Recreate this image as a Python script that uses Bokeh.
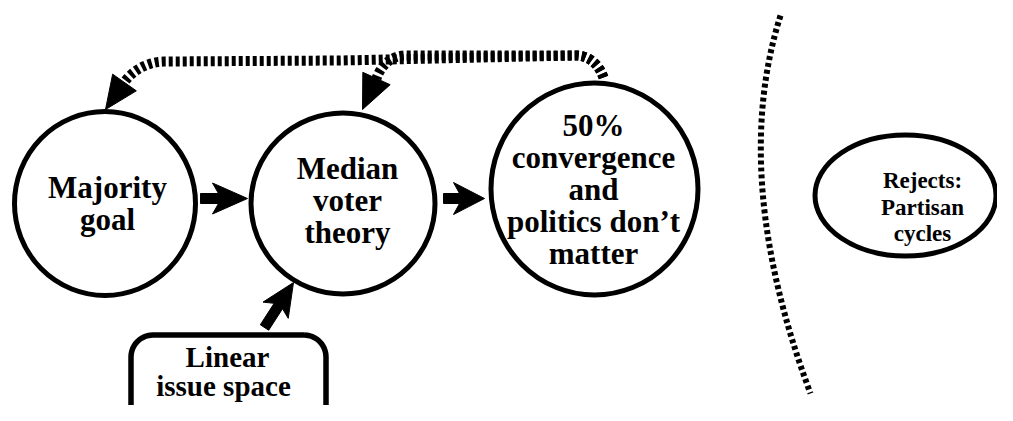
import math
from bokeh.plotting import figure
from bokeh.models import Range1d
from bokeh.core.properties import value
from bokeh.embed import file_html
from bokeh.resources import INLINE

# ---- diagram content (page-pixel coordinates) ----
node_labels = ["Majority goal", "Median voter theory",
               "50% convergence and politics don't matter"]
node_x = [104.5, 342.5, 594]
node_y = [203, 203, 188.5]
node_w = [181, 184, 207]
node_h = [184, 181, 212]

node_lines = [["Majority", "goal"],
              ["Median", "voter", "theory"],
              ["50%", "convergence", "and", "politics don\u2019t", "matter"]]
text_cx = [107, 347, 593]
text_y0 = [187, 168, 125]
line_gap = 32

reject_lines = ["Rejects:", "Partisan", "cycles"]
reject_x, reject_y, reject_w, reject_h = 905, 195, 181, 121
reject_tx, reject_ty0, reject_gap = 922, 180, 26.5

box_lines = ["Linear", "issue space"]
box_left, box_right, box_top, box_bottom, box_r = 130.5, 325.5, 334.5, 450, 22
box_tx, box_ty = [227, 223], [356, 385]

# solid arrows: tail, tip, shaft width, head length, head half width, notch
arrows = [((200, 198), (247, 198), 10, 35, 15.5, 6),
          ((443, 198), (484, 198), 10, 31, 16, 6),
          ((264, 327), (293, 282), 10, 33, 15, 5)]

# dotted feedback paths: list of segments, each a cubic (p0, c0, c1, p1) or a line (p0, p1)
path_a = [((603, 77), (598, 63), (588, 55), (575, 55)),
          ((575, 55), (340, 60)),
          ((340, 60), (165, 61)),
          ((165, 61), (145, 61), (130, 72), (123, 83))]
path_b = [((603, 77), (598, 63), (588, 55), (575, 55)),
          ((575, 55), (405, 55)),
          ((405, 55), (390, 55), (380, 66), (376, 78))]
curve_heads = [((124, 82), (105, 109), 14.5), ((376, 78), (362, 109), 15)]

# dotted divider
div_start, div_end, div_ctrl = (780, 15), (810, 393), (729, 176)

FONT = value("Liberation Serif")

p = figure(width=997, height=405, output_backend="svg", toolbar_location=None,
           x_range=Range1d(0, 997), y_range=Range1d(405, 0),
           min_border=0, tools="")
p.axis.visible = False
p.grid.visible = False
p.outline_line_color = None
p.background_fill_color = "white"

# nodes
p.ellipse(x=node_x, y=node_y, width=node_w, height=node_h,
          fill_color=None, line_color="black", line_width=5)
p.ellipse(x=[reject_x], y=[reject_y], width=[reject_w], height=[reject_h],
          fill_color=None, line_color="black", line_width=5)

# rounded box
bx, by = [], []
corners = [(box_right - box_r, box_top + box_r, -90, 0),
           (box_right - box_r, box_bottom - box_r, 0, 90),
           (box_left + box_r, box_bottom - box_r, 90, 180),
           (box_left + box_r, box_top + box_r, 180, 270)]
for cx, cy, a0, a1 in corners:
    for k in range(13):
        a = math.radians(a0 + (a1 - a0) * k / 12)
        bx.append(cx + box_r * math.cos(a))
        by.append(cy + box_r * math.sin(a))
bx.append(bx[0]); by.append(by[0])
p.line(bx, by, line_color="black", line_width=5.5)

# solid arrows
axs, ays = [], []
for (tx, ty), (px, py), w, L, H, n in arrows:
    d = math.hypot(px - tx, py - ty)
    ux, uy = (px - tx) / d, (py - ty) / d
    vx, vy = -uy, ux
    bxx, byy = px - L * ux, py - L * uy
    nx, ny = bxx + n * ux, byy + n * uy
    pts = [(tx + vx * w / 2, ty + vy * w / 2),
           (nx + vx * w / 2, ny + vy * w / 2),
           (bxx + vx * H, byy + vy * H),
           (px, py),
           (bxx - vx * H, byy - vy * H),
           (nx - vx * w / 2, ny - vy * w / 2),
           (tx - vx * w / 2, ty - vy * w / 2)]
    axs.append([q[0] for q in pts]); ays.append([q[1] for q in pts])
p.patches(axs, ays, fill_color="black", line_color="black", line_width=1)


def sample_path(segs):
    xs, ys = [], []
    for seg in segs:
        if len(seg) == 4:
            (x0, y0), (x1, y1), (x2, y2), (x3, y3) = seg
            n = 30
            for k in range(n + 1):
                t = k / n
                a, b, c, d = (1 - t) ** 3, 3 * (1 - t) ** 2 * t, 3 * (1 - t) * t ** 2, t ** 3
                xs.append(a * x0 + b * x1 + c * x2 + d * x3)
                ys.append(a * y0 + b * y1 + c * y2 + d * y3)
        else:
            (x0, y0), (x1, y1) = seg
            xs += [x0, x1]; ys += [y0, y1]
    return xs, ys


for path in (path_a, path_b):
    xs, ys = sample_path(path)
    p.line(xs, ys, line_color="black", line_width=10, line_dash="4 3",
           line_join="round")

hxs, hys = [], []
for (bm, tip, hw) in curve_heads:
    d = math.hypot(tip[0] - bm[0], tip[1] - bm[1])
    ux, uy = (tip[0] - bm[0]) / d, (tip[1] - bm[1]) / d
    vx, vy = -uy, ux
    hxs.append([bm[0] + vx * hw, tip[0], bm[0] - vx * hw])
    hys.append([bm[1] + vy * hw, tip[1], bm[1] - vy * hw])
p.patches(hxs, hys, fill_color="black", line_color="black", line_width=1)

# divider arc
p.quadratic(x0=[div_start[0]], y0=[div_start[1]], x1=[div_end[0]], y1=[div_end[1]],
            cx=[div_ctrl[0]], cy=[div_ctrl[1]],
            line_color="black", line_width=6, line_dash="4 3")

# texts
tx, ty, tt = [], [], []
for lines, cx, y0 in zip(node_lines, text_cx, text_y0):
    for i, s in enumerate(lines):
        tx.append(cx); ty.append(y0 + i * line_gap); tt.append(s)
p.text(x=tx, y=ty, text=tt, text_font=FONT, text_font_style="bold",
       text_font_size="31px", text_align="center", text_baseline="middle",
       text_color="black")
p.text(x=box_tx, y=box_ty, text=box_lines, text_font=FONT,
       text_font_style="bold", text_font_size="29px", text_align="center",
       text_baseline="middle", text_color="black")
p.text(x=[reject_tx] * 3, y=[reject_ty0 + i * reject_gap for i in range(3)],
       text=reject_lines, text_font=FONT, text_font_style="bold",
       text_font_size="23px", text_align="center", text_baseline="middle",
       text_color="black")

open("out.html", "w").write(file_html(p, INLINE))
